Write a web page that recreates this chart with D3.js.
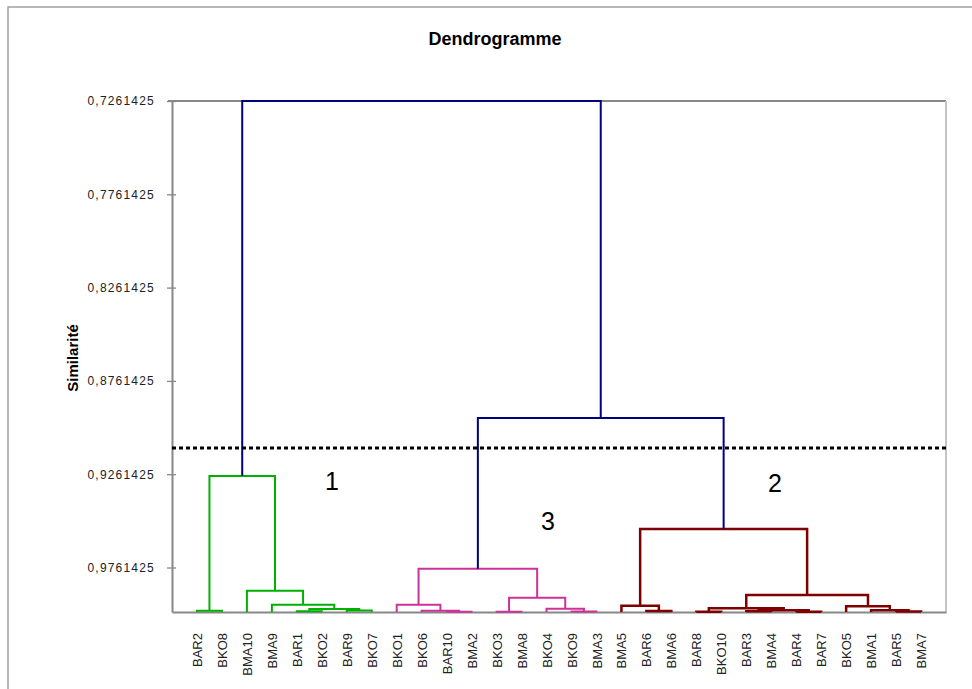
<!DOCTYPE html>
<html>
<head>
<meta charset="utf-8">
<script src="https://cdn.jsdelivr.net/npm/d3@7"></script>
<style>
  body { margin: 0; background: #fff; }
  text { font-family: "Liberation Sans", Arial, sans-serif; }
</style>
</head>
<body>
<div id="dendro"></div>
<script>
// leaf order along the x axis
const leaves = ['BAR2', 'BKO8', 'BMA10', 'BMA9', 'BAR1', 'BKO2', 'BAR9', 'BKO7',
    'BKO1', 'BKO6', 'BAR10', 'BMA2', 'BKO3', 'BMA8', 'BKO4', 'BKO9', 'BMA3',
    'BMA5', 'BAR6', 'BMA6', 'BAR8', 'BKO10', 'BAR3', 'BMA4', 'BAR4', 'BAR7',
    'BKO5', 'BMA1', 'BAR5', 'BMA7'];

// merges, bottom-up: [left, right, similarity]; merge i gets the id 'n' + i
const merges = [
    ['BAR2', 'BKO8', 0.9993],
    ['BAR1', 'BKO2', 0.9996],
    ['BAR9', 'BKO7', 0.9992],
    ['n1', 'n2', 0.9984],
    ['BMA9', 'n3', 0.9961],
    ['BMA10', 'n4', 0.9886],
    ['n0', 'n5', 0.9271],
    ['BAR10', 'BMA2', 0.9998],
    ['BKO6', 'n7', 0.9993],
    ['BKO1', 'n8', 0.9961],
    ['BKO3', 'BMA8', 0.9998],
    ['BKO9', 'BMA3', 0.9997],
    ['BKO4', 'n11', 0.9982],
    ['n10', 'n12', 0.9923],
    ['n9', 'n13', 0.9768],
    ['BAR6', 'BMA6', 0.9995],
    ['BMA5', 'n15', 0.9966],
    ['BAR8', 'BKO10', 0.9998],
    ['BAR3', 'BMA4', 0.9996],
    ['BAR4', 'BAR7', 0.9998],
    ['n18', 'n19', 0.9990],
    ['n17', 'n20', 0.9980],
    ['BAR5', 'BMA7', 0.9997],
    ['BMA1', 'n22', 0.9991],
    ['BKO5', 'n23', 0.9969],
    ['n21', 'n24', 0.9909],
    ['n16', 'n25', 0.9555],
    ['n14', 'n26', 0.8960],
    ['n6', 'n27', 0.7261425]
];

const cutLevel = 0.91211;
const clusterNames = ['1', '3', '2'];   // left to right
const tickValues = [0.7261425, 0.7761425, 0.8261425, 0.8761425, 0.9261425, 0.9761425];
const simDomain = [0.7261425, 1];

const clusterColors = ['#00b000', '#cc3399', '#7f0000'];
const linkColor = '#000080';
const clusterLabelPos = [[332, 490], [548, 530], [775, 492]];

const width = 972, height = 689;
const plot = { left: 172, right: 946, top: 101, bottom: 612 };

const svg = d3.select('#dendro').append('svg')
    .attr('width', width)
    .attr('height', height);

// outer frame
svg.append('rect')
    .attr('x', 8).attr('y', 7)
    .attr('width', width + 20).attr('height', height + 20)
    .attr('fill', 'none')
    .attr('stroke', '#a0a0a0')
    .attr('stroke-width', 1.5);

const x = d3.scalePoint()
    .domain(leaves)
    .range([plot.left, plot.right])
    .padding(1);

const y = d3.scaleLinear()
    .domain(simDomain)
    .range([plot.top, plot.bottom]);

// node positions
const pos = {};
leaves.forEach(l => { pos[l] = { x: x(l), sim: 1 }; });
merges.forEach((m, i) => {
    pos['n' + i] = { x: (pos[m[0]].x + pos[m[1]].x) / 2, sim: m[2] };
});

// cluster of each merge below the cut
const mergeCluster = new Array(merges.length).fill(-1);
const clusterRoots = [];
merges.forEach((m, i) => {
    if (m[2] >= cutLevel) {
        const parent = merges.findIndex(p => p[0] === 'n' + i || p[1] === 'n' + i);
        if (parent < 0 || merges[parent][2] < cutLevel) clusterRoots.push(i);
    }
});
clusterRoots.sort((a, b) => pos['n' + a].x - pos['n' + b].x);
function markCluster(id, c) {
    if (!id.startsWith('n')) return;
    const i = +id.slice(1);
    mergeCluster[i] = c;
    markCluster(merges[i][0], c);
    markCluster(merges[i][1], c);
}
clusterRoots.forEach((r, c) => markCluster('n' + r, c));

// frame of plot area
svg.append('line')
    .attr('x1', plot.left - 4).attr('x2', plot.right)
    .attr('y1', plot.top).attr('y2', plot.top)
    .attr('stroke', '#888').attr('stroke-width', 2);
svg.append('line')
    .attr('x1', plot.right).attr('x2', plot.right)
    .attr('y1', plot.top).attr('y2', plot.bottom)
    .attr('stroke', '#c4c4c4').attr('stroke-width', 2);

// y axis
const yAxis = svg.append('g')
    .attr('transform', `translate(${plot.left},0)`)
    .call(d3.axisLeft(y)
        .tickValues(tickValues)
        .tickSizeInner(5)
        .tickSizeOuter(0)
        .tickPadding(12)
        .tickFormat(d => d.toFixed(7).replace('.', ',')));
yAxis.select('.domain').attr('stroke', '#888').attr('stroke-width', 2);
yAxis.selectAll('.tick line').attr('stroke', '#888').attr('stroke-width', 1.3);
yAxis.selectAll('.tick text')
    .attr('fill', '#222')
    .style('font-size', '12px')
    .style('letter-spacing', '1.2px');
svg.append('g')
    .attr('transform', `translate(${plot.left},0)`)
    .call(d3.axisRight(y).tickValues(tickValues).tickSize(4).tickFormat(''))
    .call(g => g.select('.domain').remove())
    .selectAll('.tick line').attr('stroke', '#888').attr('stroke-width', 1.3);

// x axis with leaf names
const xAxis = svg.append('g')
    .attr('transform', `translate(0,${plot.bottom})`)
    .call(d3.axisBottom(x).tickSize(0).tickSizeOuter(0));
xAxis.select('.domain').attr('stroke', '#888').attr('stroke-width', 2);
xAxis.selectAll('.tick text')
    .attr('transform', 'rotate(-90)')
    .attr('text-anchor', 'end')
    .attr('x', -21)
    .attr('y', 0)
    .attr('dy', '0.35em')
    .attr('fill', '#222')
    .style('font-size', '13px');

// dendrogram links
const links = svg.append('g').attr('fill', 'none');
merges.forEach((m, i) => {
    const a = pos[m[0]], b = pos[m[1]];
    const c = mergeCluster[i];
    links.append('path')
        .attr('d', `M${a.x},${y(a.sim)}V${y(m[2])}H${b.x}V${y(b.sim)}`)
        .attr('stroke', c < 0 ? linkColor : clusterColors[c])
        .attr('stroke-width', c === 2 ? 2.5 : 2);
});

// cut line
svg.append('line')
    .attr('x1', plot.left).attr('x2', plot.right)
    .attr('y1', y(cutLevel)).attr('y2', y(cutLevel))
    .attr('stroke', '#000')
    .attr('stroke-width', 3)
    .attr('stroke-dasharray', '4,3');

// cluster numbers
svg.selectAll('.cluster-label')
    .data(clusterNames)
    .enter().append('text')
    .attr('class', 'cluster-label')
    .attr('x', (d, i) => clusterLabelPos[i][0])
    .attr('y', (d, i) => clusterLabelPos[i][1])
    .attr('text-anchor', 'middle')
    .style('font-size', '25px')
    .text(d => d);

// titles
svg.append('text')
    .attr('x', 495).attr('y', 45)
    .attr('text-anchor', 'middle')
    .style('font-size', '18px')
    .style('font-weight', 'bold')
    .text('Dendrogramme');

svg.append('text')
    .attr('transform', 'translate(78,358) rotate(-90)')
    .attr('text-anchor', 'middle')
    .style('font-size', '15px')
    .style('font-weight', 'bold')
    .text('Similarité');
</script>
</body>
</html>
